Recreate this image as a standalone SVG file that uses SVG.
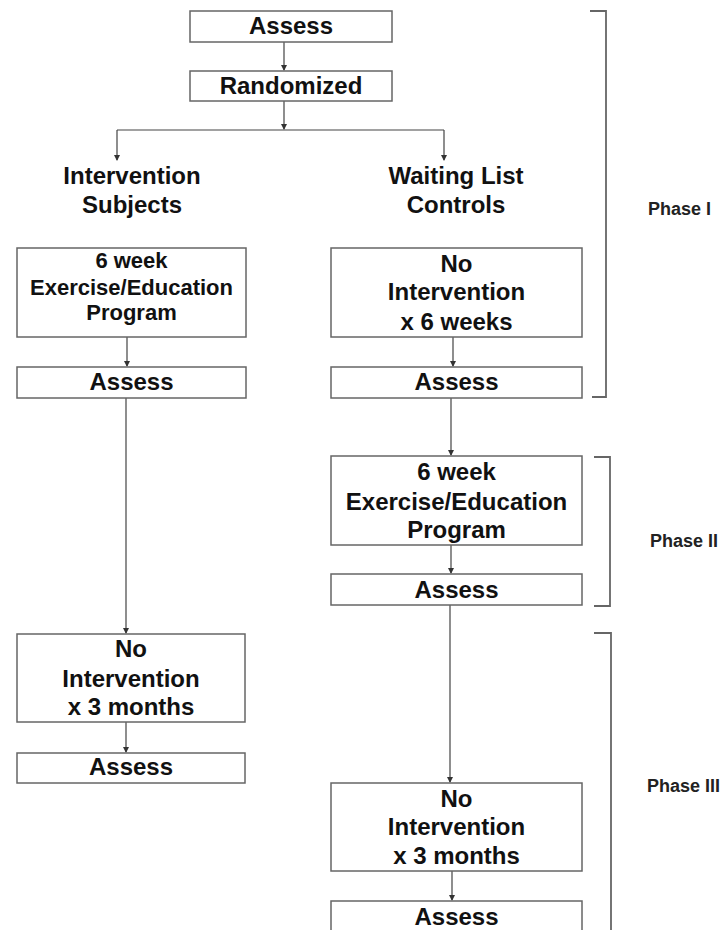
<svg xmlns="http://www.w3.org/2000/svg" width="726" height="930" viewBox="0 0 726 930">
<defs>
<marker id="ah" markerWidth="6" markerHeight="6" refX="5" refY="3" orient="auto" markerUnits="userSpaceOnUse">
<path d="M0,0 L6,3 L0,6 Z" fill="#333"/>
</marker>
<style>
.box{fill:#fff;stroke:#666;stroke-width:1.5}
.t{font-family:"Liberation Sans",Arial,sans-serif;font-weight:bold;font-size:24px;fill:#111;text-anchor:middle}
.ts{font-size:22px}
.ph{font-family:"Liberation Sans",Arial,sans-serif;font-weight:bold;font-size:18px;fill:#222}
.c{fill:none;stroke:#444;stroke-width:1.2}
.br{fill:none;stroke:#666;stroke-width:1.8}
</style>
</defs>
<rect width="726" height="930" fill="#fff"/>

<g id="connectors">
<path class="c" d="M284,42 V70" marker-end="url(#ah)"/>
<path class="c" d="M284,101 V129" marker-end="url(#ah)"/>
<path class="c" d="M117,130 H444"/>
<path class="c" d="M117,130 V160" marker-end="url(#ah)"/>
<path class="c" d="M444,130 V160" marker-end="url(#ah)"/>
<path class="c" d="M127,337 V366" marker-end="url(#ah)"/>
<path class="c" d="M453,337 V366" marker-end="url(#ah)"/>
<path class="c" d="M126,398 V633" marker-end="url(#ah)"/>
<path class="c" d="M451,398 V455" marker-end="url(#ah)"/>
<path class="c" d="M451,545 V573" marker-end="url(#ah)"/>
<path class="c" d="M126,722 V752" marker-end="url(#ah)"/>
<path class="c" d="M450,605 V782" marker-end="url(#ah)"/>
<path class="c" d="M452,871 V900" marker-end="url(#ah)"/>
</g>

<g id="assess1"><rect class="box" x="190" y="11" width="202" height="31"/><text class="t" x="291" y="34">Assess</text></g>
<g id="randomized"><rect class="box" x="190" y="71" width="202" height="30"/><text class="t" x="291" y="94">Randomized</text></g>

<g id="intervention-subjects"><text class="t" x="132" y="184">Intervention</text><text class="t" x="132" y="213">Subjects</text></g>
<g id="waiting-list"><text class="t" x="456" y="184">Waiting List</text><text class="t" x="456" y="213">Controls</text></g>

<g id="left-program"><rect class="box" x="17" y="248" width="229" height="89"/>
<text class="t ts" x="131.5" y="268">6 week</text><text class="t ts" x="131.5" y="295">Exercise/Education</text><text class="t ts" x="131.5" y="320">Program</text></g>
<g id="right-nointervention1"><rect class="box" x="331" y="248" width="251" height="89"/>
<text class="t" x="456.5" y="272">No</text><text class="t" x="456.5" y="300">Intervention</text><text class="t" x="456.5" y="330">x 6 weeks</text></g>

<g id="left-assess1"><rect class="box" x="17" y="367" width="229" height="31"/><text class="t" x="131.5" y="390">Assess</text></g>
<g id="right-assess1"><rect class="box" x="331" y="367" width="251" height="31"/><text class="t" x="456.5" y="390">Assess</text></g>

<g id="right-program"><rect class="box" x="331" y="456" width="251" height="89"/>
<text class="t" x="456.5" y="480">6 week</text><text class="t" x="456.5" y="510">Exercise/Education</text><text class="t" x="456.5" y="538">Program</text></g>
<g id="right-assess2"><rect class="box" x="331" y="574" width="251" height="31"/><text class="t" x="456.5" y="598">Assess</text></g>

<g id="left-nointervention"><rect class="box" x="17" y="634" width="228" height="88"/>
<text class="t" x="131" y="657">No</text><text class="t" x="131" y="687">Intervention</text><text class="t" x="131" y="715">x 3 months</text></g>
<g id="left-assess2"><rect class="box" x="17" y="753" width="228" height="30"/><text class="t" x="131" y="775">Assess</text></g>

<g id="right-nointervention2"><rect class="box" x="331" y="783" width="251" height="88"/>
<text class="t" x="456.5" y="807">No</text><text class="t" x="456.5" y="835">Intervention</text><text class="t" x="456.5" y="864">x 3 months</text></g>
<g id="right-assess3"><rect class="box" x="331" y="901" width="251" height="34"/><text class="t" x="456.5" y="925">Assess</text></g>

<g id="phase1"><path class="br" d="M590,11 H606 V397 H592"/><text class="ph" x="648" y="215">Phase I</text></g>
<g id="phase2"><path class="br" d="M594,457 H610 V606 H594"/><text class="ph" x="650" y="547">Phase II</text></g>
<g id="phase3"><path class="br" d="M594,633 H611 V930"/><text class="ph" x="647" y="792">Phase III</text></g>
</svg>
